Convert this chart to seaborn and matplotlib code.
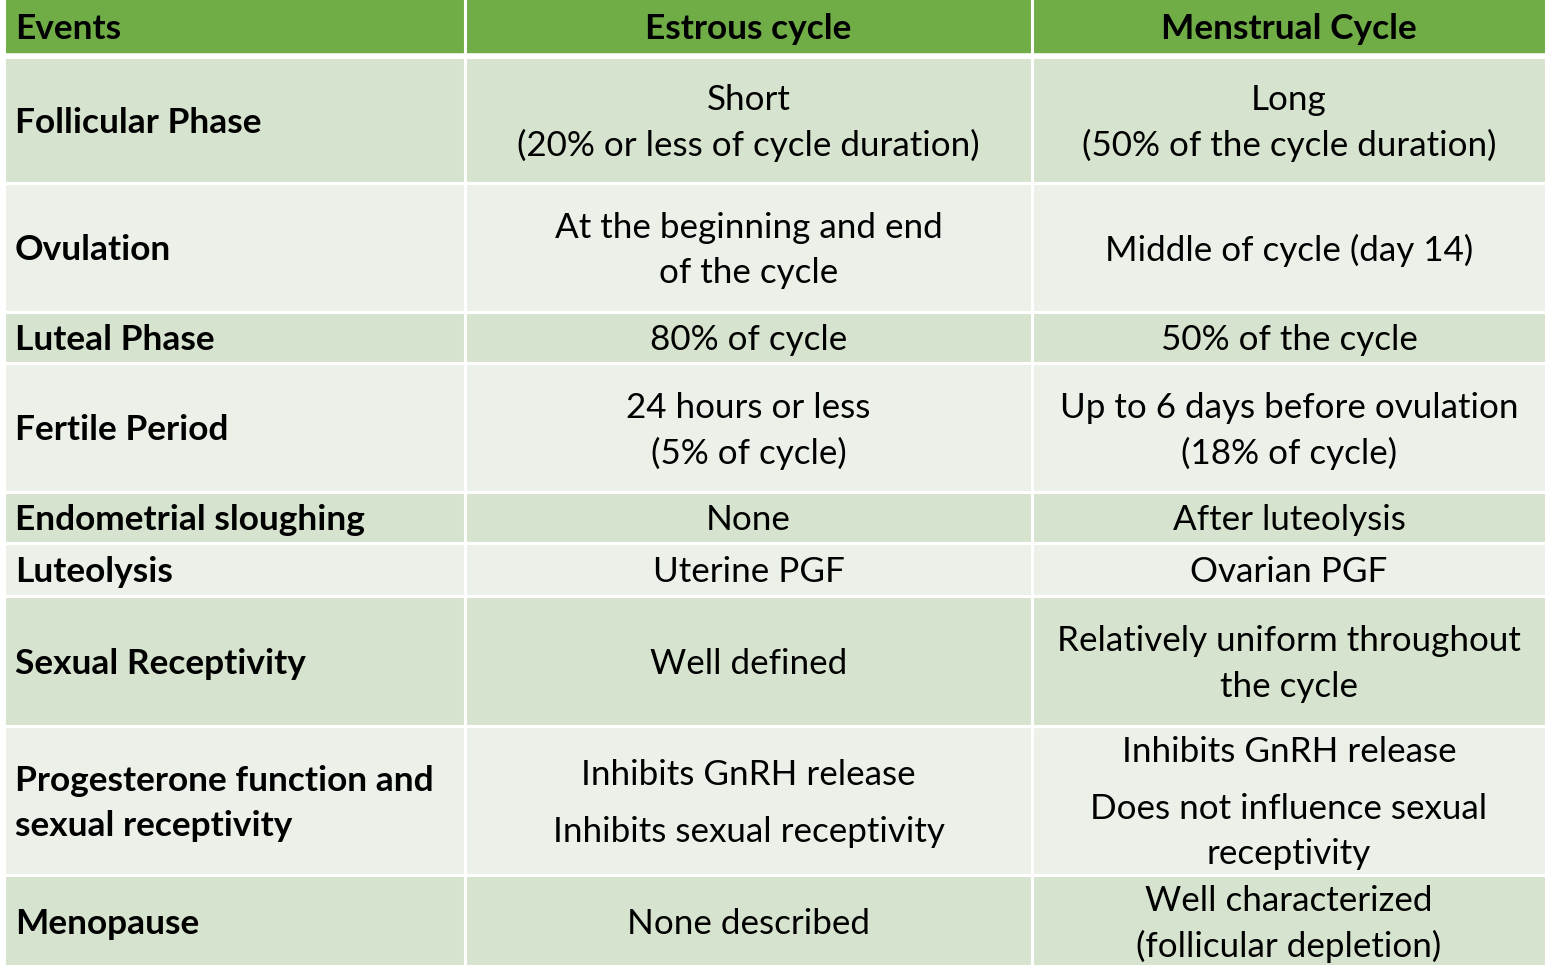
import matplotlib
matplotlib.use("Agg")
import matplotlib.pyplot as plt
from matplotlib.patches import Rectangle
import seaborn as sns

sns.set_theme(style="white")
plt.rcParams['font.family'] = ['Lato', 'DejaVu Sans']

# ---- table content ----
headers = ["Events", "Estrous cycle", "Menstrual Cycle"]
events = ["Follicular Phase", "Ovulation", "Luteal Phase", "Fertile Period",
          "Endometrial sloughing", "Luteolysis", "Sexual Receptivity",
          "Progesterone function and\nsexual receptivity", "Menopause"]
# "||" separates paragraphs (slightly larger gap)
estrous = ["Short\n(20% or less of cycle duration)",
           "At the beginning and end\nof the cycle",
           "80% of cycle",
           "24 hours or less\n(5% of cycle)",
           "None",
           "Uterine PGF",
           "Well defined",
           "Inhibits GnRH release||Inhibits sexual receptivity",
           "None described"]
menstrual = ["Long\n(50% of the cycle duration)",
             "Middle of cycle (day 14)",
             "50% of the cycle",
             "Up to 6 days before ovulation\n(18% of cycle)",
             "After luteolysis",
             "Ovarian PGF",
             "Relatively uniform throughout\nthe cycle",
             "Inhibits GnRH release||Does not influence sexual\nreceptivity",
             "Well characterized\n(follicular depletion)"]

# ---- layout (pixels) ----
W, H = 1564, 973
col_edges = [4, 465, 1032, 1546]
row_edges = [-3, 55, 183, 312, 363, 492, 543, 596, 726, 875, 966]
header_color = "#70AD47"
row_colors = ["#D6E3CE", "#EBF1E9"]
gap = 2.2
line_h = 45.5
para_gap = 11
fs = 25.2
fs_bold = 25.4

fig = plt.figure(figsize=(W / 100, H / 100), dpi=100)
ax = fig.add_axes([0, 0, 1, 1])
ax.set_xlim(0, W)
ax.set_ylim(H, 0)
ax.axis("off")

def draw_cell(x0, x1, y0, y1, color):
    ax.add_patch(Rectangle((x0, y0), x1 - x0, y1 - y0, facecolor=color,
                           edgecolor="white", linewidth=gap))

def draw_text(text, x, yc, ha, bold):
    paras = [p.split("\n") for p in text.split("||")]
    n_lines = sum(len(p) for p in paras)
    total = (n_lines - 1) * line_h + (len(paras) - 1) * para_gap
    y = yc - total / 2
    for pi, p in enumerate(paras):
        for line in p:
            ax.text(x, y, line, ha=ha, va="center_baseline",
                    fontsize=fs_bold if bold else fs,
                    fontweight="bold" if bold else "normal", color="black")
            y += line_h
        y += para_gap

# header
for j, h in enumerate(headers):
    x0, x1 = col_edges[j], col_edges[j + 1]
    draw_cell(x0, x1, row_edges[0], row_edges[1], header_color)
    if j == 0:
        draw_text(h, x0 + 11, 26, "left", True)
    else:
        draw_text(h, (x0 + x1) / 2, 26, "center", True)
# thicker separator under header
ax.plot([col_edges[0], col_edges[-1]], [row_edges[1] + 1, row_edges[1] + 1],
        color="white", lw=4, solid_capstyle="butt")

for i in range(len(events)):
    y0, y1 = row_edges[i + 1] + (2 if i == 0 else 0), row_edges[i + 2]
    yc = (y0 + y1) / 2
    color = row_colors[i % 2]
    cells = [events[i], estrous[i], menstrual[i]]
    for j, c in enumerate(cells):
        x0, x1 = col_edges[j], col_edges[j + 1]
        draw_cell(x0, x1, y0, y1, color)
        if j == 0:
            draw_text(c, x0 + 11, yc, "left", True)
        else:
            draw_text(c, (x0 + x1) / 2, yc, "center", False)

fig.savefig("out.png", dpi=100, facecolor="white")
